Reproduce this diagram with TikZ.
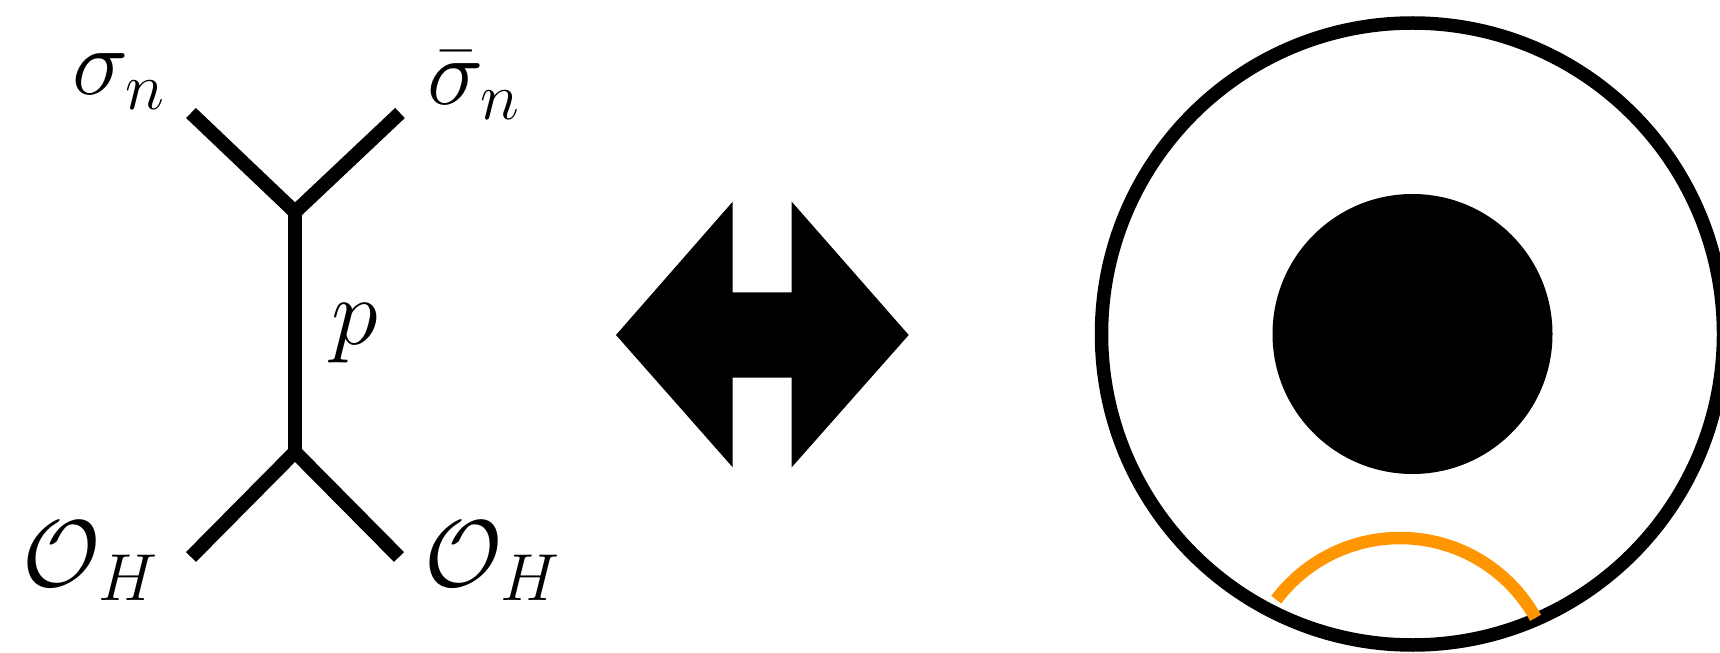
\RequirePackage{fix-cm}
\documentclass[tikz,border=0pt]{standalone}
\usepackage{amsmath}
\usepackage{tikz}
\usetikzlibrary{positioning}
\definecolor{arcOrange}{RGB}{255,150,0}

\begin{document}
\begin{tikzpicture}[
    leg/.style={line width=0.14cm, draw=black},
    lbl/.style={inner sep=0pt, anchor=base west, font=\fontsize{27}{32}\selectfont},
    ring/.style={line width=0.135cm, draw=black},
    cut/.style={line width=0.125cm, draw=arcOrange}
]
\useasboundingbox (0,0) rectangle (17.2,6.52);
\clip (0,0) rectangle (17.2,6.52);

% Exchange diagram
\coordinate (vtop) at (2.95,4.40);
\coordinate (vbot) at (2.95,2.00);
\coordinate (tl) at (1.91,5.39);
\coordinate (tr) at (4.00,5.39);
\coordinate (bl) at (1.91,0.95);
\coordinate (br) at (3.99,0.95);

\draw [leg] (tl) -- (vtop) -- (tr);
\draw [leg] (vtop) -- (vbot);
\draw [leg] (bl) -- (vbot) -- (br);

\node (sigL) [lbl] at (0.72,5.57) {$\sigma_n$};
\node (sigR) [lbl] at (4.27,5.47) {$\bar{\sigma}_n$};
\node (mom) [lbl] at (3.31,3.08) {$p$};
\node (opL) [lbl] at (0.22,0.66) {$\mathcal{O}_H$};
\node (opR) [lbl] at (4.24,0.66) {$\mathcal{O}_H$};

% Duality arrow
\fill (6.16,3.17) -- (7.327,4.503) -- (7.327,3.597) -- (7.917,3.597) -- (7.917,4.503)
  -- (9.087,3.17) -- (7.917,1.847) -- (7.917,2.743) -- (7.327,2.743) -- (7.327,1.847) -- cycle;

% Bulk picture
\coordinate (cen) at (14.125,3.18);
\draw [ring] (cen) circle[radius=3.11];
\fill (cen) circle[radius=1.40];
\draw [cut] (14.00,-0.41) ++(143:1.55) arc[start angle=143, end angle=29, radius=1.55];

\end{tikzpicture}
\end{document}
